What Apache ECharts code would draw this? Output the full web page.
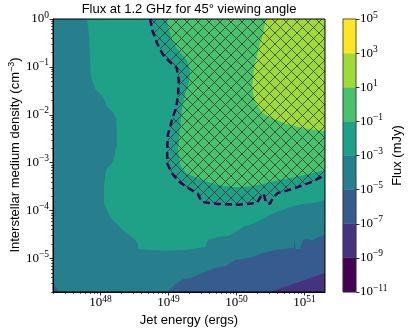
<!DOCTYPE html>
<html><head><meta charset="utf-8">
<script src="https://cdn.jsdelivr.net/npm/echarts@6/dist/echarts.min.js"></script>
<style>html,body{margin:0;padding:0;background:#fff}#c{width:415px;height:332px}</style>
</head><body><div id="c"></div>
<script>
// ---- axes (log10 units) ----
const xRange = [47.301, 51.301];          // jet energy 2e47 .. 2e51 ergs
const yRange = [-5.699, 0];               // ISM density 2e-6 .. 1 cm^-3
const xTickExps = [48, 49, 50, 51];
const yTickExps = [-5, -4, -3, -2, -1, 0];
const levelExps = [-11, -9, -7, -5, -3, -1, 1, 3, 5];   // contour levels, flux in mJy
const bandColors = ['#440154', '#46337e', '#365c8d', '#277f8e', '#1fa187', '#4ac16d', '#a0da39', '#fde725'];

// ---- filled contour regions, points = [log10 E, log10 n] ----
const fluxBand3Area = [[47.2, 0.1], [51.4, 0.1], [51.4, -5.8], [47.2, -5.8]];            // 1e-5..1e-3 (background)
const fluxBelow1e5 = [[48.99, -5.80], [48.99, -5.70], [49.09, -5.55], [49.21, -5.43], [49.32, -5.41], [49.43, -5.34],
  [49.57, -5.26], [49.68, -5.20], [49.83, -5.16], [49.98, -5.03], [50.09, -5.01], [50.23, -4.97], [50.37, -4.89],
  [50.57, -4.82], [50.80, -4.78], [50.84, -4.78], [50.85, -4.61], [50.87, -4.80], [50.93, -4.80], [50.98, -4.61],
  [51.05, -4.59], [51.11, -4.63], [51.20, -4.55], [51.30, -4.51], [51.40, -4.50], [51.40, -5.80]];
const fluxBelow1e5Corner = [[47.20, -5.50], [47.30, -5.51], [47.36, -5.62], [47.41, -5.80], [47.20, -5.80]];
const fluxBelow1e7 = [[50.29, -5.80], [50.49, -5.70], [51.30, -5.30], [51.40, -5.25], [51.40, -5.80]];
const fluxAbove1e3 = [[47.80, 0.10], [47.80, 0], [47.83, -0.33], [47.85, -0.96], [47.86, -1.23], [47.93, -1.48],
  [48.04, -1.63], [48.09, -1.82], [48.18, -1.94], [48.23, -2.07], [48.24, -2.32], [48.24, -2.63], [48.21, -2.84],
  [48.17, -3.01], [48.08, -3.15], [48.05, -3.51], [48.05, -3.84], [48.11, -4.05], [48.18, -4.20], [48.33, -4.41],
  [48.48, -4.57], [48.55, -4.68], [48.55, -4.80], [48.73, -4.82], [48.98, -4.84], [49.24, -4.82], [49.54, -4.76],
  [49.58, -4.61], [49.73, -4.55], [49.87, -4.53], [49.98, -4.45], [50.09, -4.34], [50.23, -4.28], [50.35, -4.20],
  [50.46, -4.11], [50.60, -4.03], [50.74, -3.95], [50.86, -3.90], [50.98, -3.86], [51.11, -3.84], [51.20, -3.82],
  [51.30, -3.78], [51.40, -3.76], [51.40, 0.10]];
const fluxAbove1e1 = [[48.98, 0.10], [48.98, 0], [48.99, -0.13], [49.05, -0.44], [49.14, -0.65], [49.27, -0.86],
  [49.32, -1.11], [49.30, -1.32], [49.24, -1.59], [49.20, -1.86], [49.17, -2.25], [49.14, -2.73], [49.17, -3.05],
  [49.26, -3.22], [49.49, -3.36], [49.73, -3.47], [49.98, -3.51], [50.23, -3.49], [50.52, -3.40], [50.86, -3.30],
  [51.11, -3.22], [51.30, -3.15], [51.40, -3.13], [51.40, 0.10]];
const fluxAbove10 = [[50.43, 0.10], [50.43, 0], [50.39, -0.29], [50.32, -0.65], [50.26, -1.00], [50.23, -1.42],
  [50.27, -1.73], [50.37, -1.94], [50.49, -2.05], [50.74, -2.19], [50.98, -2.28], [51.30, -2.34], [51.40, -2.35], [51.40, 0.10]];
// detectability boundary (dashed line, hatched above/right of it)
const detectEdge = [[48.73, 0.00], [48.76, -0.23], [48.83, -0.50], [48.92, -0.75], [49.02, -0.90], [49.12, -1.02],
  [49.15, -1.27], [49.14, -1.59], [49.11, -1.86], [49.05, -2.11], [48.99, -2.42], [48.98, -2.73], [48.98, -3.01],
  [49.05, -3.22], [49.14, -3.38], [49.27, -3.51], [49.43, -3.65], [49.49, -3.82], [49.73, -3.86], [50.02, -3.88],
  [50.30, -3.84], [50.36, -3.70], [50.40, -3.65], [50.43, -3.82], [50.49, -3.86], [50.54, -3.72], [50.61, -3.63],
  [50.68, -3.61], [50.90, -3.51], [51.11, -3.40], [51.30, -3.26]];

const regions = [
  { pts: fluxBand3Area, band: 3 },
  { pts: fluxBelow1e5, band: 2 },
  { pts: fluxBelow1e5Corner, band: 2 },
  { pts: fluxBelow1e7, band: 1 },
  { pts: fluxAbove1e3, band: 4 },
  { pts: fluxAbove1e1, band: 5 },
  { pts: fluxAbove10, band: 6 }
];
const hatchArea = detectEdge.concat([[51.40, -3.24], [51.40, 0.10], [48.73, 0.10]]);

// ---- helpers ----
function expText(v) { const n = Math.round(v); return (n < 0 ? '\u2212' + (-n) : '' + n); }
function minorTicks(r) {
  const out = [];
  for (let n = Math.floor(r[0]); n <= Math.ceil(r[1]); n++)
    for (let k = 2; k <= 9; k++) { const v = n + Math.log10(k); if (v > r[0] && v < r[1]) out.push(v); }
  return out;
}
function makeHatch() {
  const S = 11, c = document.createElement('canvas'); c.width = S; c.height = S;
  const g = c.getContext('2d'); g.strokeStyle = 'rgba(35,35,35,0.68)'; g.lineWidth = 1;
  g.beginPath();
  for (const o of [-S, 0, S]) { g.moveTo(o - 1, -1); g.lineTo(o + S + 1, S + 1); g.moveTo(o - 1, S + 1); g.lineTo(o + S + 1, -1); }
  g.stroke(); return c;
}
const serif = 'Liberation Serif', sans = 'Liberation Sans';
const tickRich = {
  b: { fontFamily: serif, fontSize: 13, color: '#000', lineHeight: 18 },
  s: { fontFamily: serif, fontSize: 9.5, color: '#000', lineHeight: 10, verticalAlign: 'top' }
};
const fmt = v => '{b|10}{s|' + expText(v) + '}';
function majorAxis(range, ticks, pos, name, gap, margin) {
  return {
    type: 'value', gridIndex: 0, position: pos, min: range[0], max: range[1], z: 10,
    axisLine: { show: true, onZero: false, lineStyle: { color: '#000', width: 1 } },
    axisTick: { show: true, customValues: ticks, length: 3.5, lineStyle: { color: '#000', width: 0.8 } },
    axisLabel: { show: true, customValues: ticks, formatter: fmt, rich: tickRich, margin: margin },
    splitLine: { show: false },
    name: name, nameLocation: 'middle', nameGap: gap,
    nameTextStyle: { fontFamily: sans, fontSize: 13, color: '#000' }
  };
}
function minorAxis(range, pos) {
  return {
    type: 'value', gridIndex: 0, position: pos, min: range[0], max: range[1], z: 10,
    axisLine: { show: false, onZero: false },
    axisTick: { show: true, customValues: minorTicks(range), length: 2, lineStyle: { color: '#000', width: 0.6 } },
    axisLabel: { show: false }, splitLine: { show: false }
  };
}

const chart = echarts.init(document.getElementById('c'), null, { renderer: 'canvas' });
const hatch = makeHatch();
chart.setOption({
  animation: false,
  backgroundColor: '#fff',
  graphic: [{
    type: 'text', x: 189, y: 3, z: 20,
    style: { text: 'Flux at 1.2 GHz for 45\u00b0 viewing angle', textAlign: 'center', textVerticalAlign: 'top',
      fontFamily: sans, fontSize: 13, fill: '#000' }
  }, {
    type: 'text', x: 15, y: 155, rotation: Math.PI / 2, z: 20,
    style: {
      text: '{n|Interstellar medium density (cm}{s|\u22123}{n|)}', textAlign: 'center', textVerticalAlign: 'middle',
      rich: {
        n: { fontFamily: sans, fontSize: 13, fill: '#000', lineHeight: 16 },
        s: { fontFamily: sans, fontSize: 9, fill: '#000', lineHeight: 9, verticalAlign: 'top' }
      }
    }
  }],
  grid: [
    { left: 53, top: 19, width: 272, height: 273, containLabel: false, outerBoundsMode: 'none' },
    { left: 343, top: 19, width: 13, height: 273, containLabel: false, outerBoundsMode: 'none' }
  ],
  xAxis: [
    majorAxis(xRange, xTickExps, 'bottom', 'Jet energy (ergs)', 13, 2),
    minorAxis(xRange, 'bottom'),
    { type: 'value', gridIndex: 1, min: 0, max: 1, show: false }
  ],
  yAxis: [
    majorAxis(yRange, yTickExps, 'left', '', 20, 4),
    minorAxis(yRange, 'left'),
    {
      type: 'value', gridIndex: 1, position: 'right', min: levelExps[0], max: levelExps[levelExps.length - 1], z: 10,
      axisLine: { show: false, onZero: false },
      axisTick: { show: true, customValues: levelExps, length: 3.5, lineStyle: { color: '#000', width: 0.8 } },
      axisLabel: { show: true, customValues: levelExps, formatter: fmt, rich: tickRich, margin: 4 },
      splitLine: { show: false },
      name: 'Flux (mJy)', nameLocation: 'middle', nameGap: 34, nameRotate: 90,
      nameTextStyle: { fontFamily: sans, fontSize: 13, color: '#000' }
    }
  ],
  series: [
    {
      type: 'custom', xAxisIndex: 0, yAxisIndex: 0, clip: true, z: 2,
      data: regions.map((r, i) => [xRange[0], yRange[0], i]),
      renderItem: (params, api) => {
        const r = regions[params.dataIndex];
        return { type: 'polygon', shape: { points: r.pts.map(p => api.coord(p)) }, style: { fill: bandColors[r.band] } };
      }
    },
    {
      type: 'custom', xAxisIndex: 0, yAxisIndex: 0, clip: true, z: 3,
      data: [[xRange[0], yRange[0]]],
      renderItem: (params, api) => ({
        type: 'polygon', shape: { points: hatchArea.map(p => api.coord(p)) },
        style: { fill: { image: hatch, repeat: 'repeat' }, stroke: null }
      })
    },
    {
      type: 'line', xAxisIndex: 0, yAxisIndex: 0, z: 4, clip: true, showSymbol: false, symbol: 'none',
      data: detectEdge,
      lineStyle: { color: '#440154', width: 2.5, type: [7, 4] }
    },
    {
      type: 'custom', xAxisIndex: 0, yAxisIndex: 0, clip: false, z: 5,
      data: [[xRange[0], yRange[0]]],
      renderItem: (params, api) => {
        const a = api.coord([xRange[0], yRange[1]]), b = api.coord([xRange[1], yRange[0]]);
        return { type: 'rect', shape: { x: a[0], y: a[1], width: b[0] - a[0], height: b[1] - a[1] },
          style: { fill: null, stroke: '#000', lineWidth: 1 } };
      }
    },
    {
      type: 'custom', xAxisIndex: 2, yAxisIndex: 2, clip: false, z: 2,
      data: bandColors.map((c, i) => [0, levelExps[i], i]),
      renderItem: (params, api) => {
        const i = params.dataIndex;
        const a = api.coord([0, levelExps[i + 1]]), b = api.coord([1, levelExps[i]]);
        return { type: 'rect', shape: { x: a[0], y: a[1], width: b[0] - a[0], height: b[1] - a[1] },
          style: { fill: bandColors[i], stroke: bandColors[i], lineWidth: 0.5 } };
      }
    },
    {
      type: 'custom', xAxisIndex: 2, yAxisIndex: 2, clip: false, z: 5,
      data: [[0, levelExps[0]]],
      renderItem: (params, api) => {
        const a = api.coord([0, levelExps[levelExps.length - 1]]), b = api.coord([1, levelExps[0]]);
        return { type: 'rect', shape: { x: a[0], y: a[1], width: b[0] - a[0], height: b[1] - a[1] },
          style: { fill: null, stroke: '#333', lineWidth: 0.8 } };
      }
    }
  ]
});
</script></body></html>
